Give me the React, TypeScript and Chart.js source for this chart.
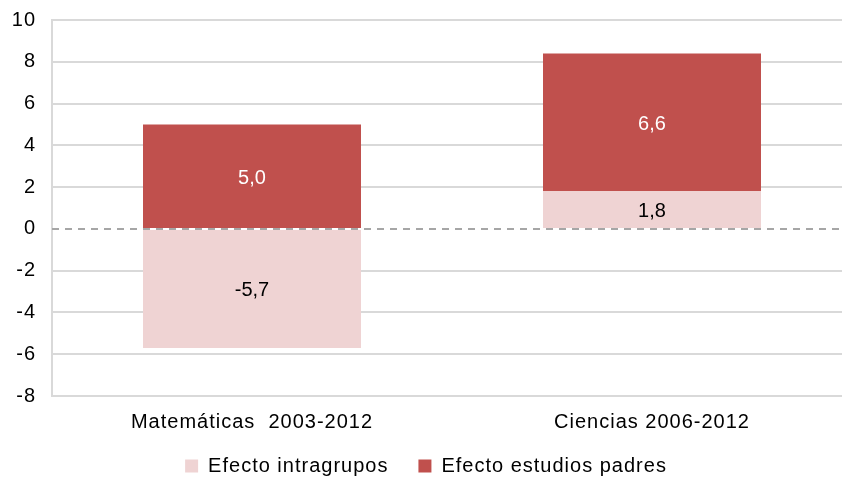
import React, { useEffect, useRef } from 'react';
import { Chart, registerables } from 'chart.js';

Chart.register(...registerables);

const categories = ['Matemáticas  2003-2012', 'Ciencias 2006-2012'];
const seriesNames = ['Efecto intragrupos', 'Efecto estudios padres'];
const intragrupos = [-5.7, 1.8];
const estudiosPadres = [5.0, 6.6];
const yMin = -8;
const yMax = 10;
const yStep = 2;

const FONT = "'Liberation Sans', Arial, Helvetica, sans-serif";
const PINK = '#EFD3D3';
const RED = '#C0504D';

const spacingPlugin = {
  id: 'spacing',
  beforeUpdate(chart: any) {
    chart.ctx.letterSpacing = '1px';
  },
  beforeDraw(chart: any) {
    chart.ctx.letterSpacing = '1px';
  },
};

const overlayPlugin = {
  id: 'overlay',
  afterDatasetsDraw(chart: any) {
    const ctx = chart.ctx;
    const ys = chart.scales.y;
    const { left, right } = chart.chartArea;
    const y0 = ys.getPixelForValue(0);
    ctx.save();
    ctx.letterSpacing = '0px';
    ctx.strokeStyle = '#A6A6A6';
    ctx.lineWidth = 2;
    ctx.setLineDash([7, 6]);
    ctx.beginPath();
    ctx.moveTo(left, y0);
    ctx.lineTo(right, y0);
    ctx.stroke();
    ctx.setLineDash([]);
    ctx.font = `20px ${FONT}`;
    ctx.textAlign = 'center';
    ctx.textBaseline = 'middle';
    chart.data.datasets.forEach((ds: any, di: number) => {
      const meta = chart.getDatasetMeta(di);
      meta.data.forEach((el: any, i: number) => {
        const v = ds.data[i] as number;
        const p = el.getCenterPoint();
        ctx.fillStyle = ds.labelColor;
        ctx.fillText(v.toFixed(1).replace('.', ','), p.x, p.y + 2);
      });
    });
    ctx.restore();
  },
  afterDraw(chart: any) {
    const ctx = chart.ctx;
    const xs = chart.scales.x;
    const yLab = chart.chartArea.bottom + 26;
    ctx.save();
    ctx.letterSpacing = '1px';
    ctx.font = `20px ${FONT}`;
    ctx.fillStyle = '#000000';
    ctx.textAlign = 'center';
    ctx.textBaseline = 'middle';
    (chart.data.labels as string[]).forEach((lab: string, i: number) => {
      ctx.fillText(lab, xs.getPixelForTick(i), yLab);
    });
    ctx.restore();
  },
};

export default function App() {
  const ref = useRef<HTMLCanvasElement | null>(null);

  useEffect(() => {
    if (!ref.current) return;
    Chart.defaults.font.family = FONT;
    const chart = new Chart(ref.current, {
      type: 'bar',
      data: {
        labels: categories,
        datasets: [
          {
            label: seriesNames[0],
            data: intragrupos,
            backgroundColor: PINK,
            borderWidth: 0,
            barPercentage: 0.545,
            categoryPercentage: 1,
            labelColor: '#000000',
          } as any,
          {
            label: seriesNames[1],
            data: estudiosPadres,
            backgroundColor: RED,
            borderWidth: 0,
            barPercentage: 0.545,
            categoryPercentage: 1,
            labelColor: '#FFFFFF',
          } as any,
        ],
      },
      options: {
        responsive: false,
        animation: false,
        devicePixelRatio: 1,
        layout: { padding: { top: 20, left: 0, right: 0, bottom: -7 } },
        scales: {
          x: {
            stacked: true,
            grid: { display: false, drawTicks: false },
            border: { display: false },
            ticks: { display: false },
            afterFit: (s: any) => {
              s.height = 30;
            },
          },
          y: {
            stacked: true,
            min: yMin,
            max: yMax,
            grid: {
              color: (c: any) => (c.tick && c.tick.value === 0 ? 'rgba(0,0,0,0)' : '#D9D9D9'),
              lineWidth: 2,
              drawTicks: false,
            },
            border: { display: true, color: '#D9D9D9', width: 2 },
            ticks: {
              stepSize: yStep,
              color: '#000000',
              font: { size: 20 },
              padding: 16,
            },
            afterFit: (s: any) => {
              s.width = 52;
              s.paddingTop = 0;
              s.paddingBottom = 0;
            },
          },
        },
        plugins: {
          legend: {
            position: 'bottom',
            labels: {
              boxWidth: 13,
              boxHeight: 13,
              padding: 30,
              color: '#000000',
              font: { size: 20 },
            },
          },
          tooltip: { enabled: false },
        },
      },
      plugins: [spacingPlugin, overlayPlugin],
    });
    return () => chart.destroy();
  }, []);

  return (
    <div
      style={{
        position: 'fixed',
        left: 0,
        top: 0,
        width: 842,
        height: 479,
        overflow: 'hidden',
        background: '#FFFFFF',
      }}
    >
      <canvas ref={ref} width={852} height={479} style={{ display: 'block' }} />
    </div>
  );
}
